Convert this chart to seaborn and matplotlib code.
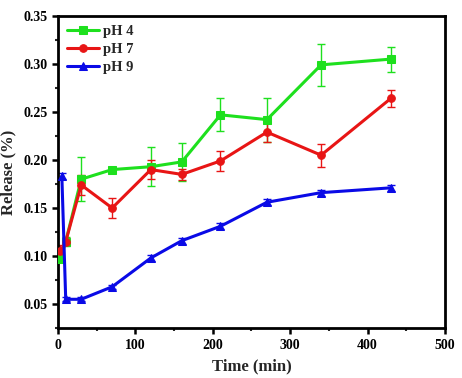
import pandas as pd
import matplotlib
matplotlib.use("Agg")
import matplotlib.pyplot as plt
import seaborn as sns
from matplotlib.ticker import MultipleLocator

sns.set_theme(style="ticks")
plt.rcParams["font.family"] = ["Liberation Serif", "DejaVu Serif"]
plt.rcParams["font.weight"] = "bold"

# data
time_ph4 = [3, 10, 30, 70, 120, 160, 210, 270, 340, 430]
release_ph4 = [0.097, 0.115, 0.180, 0.190, 0.193, 0.198, 0.247, 0.242, 0.299, 0.305]
err_ph4 = [0.003, 0.005, 0.023, 0.003, 0.020, 0.020, 0.017, 0.023, 0.022, 0.013]

time_ph7 = [3, 10, 30, 70, 120, 160, 210, 270, 340, 430]
release_ph7 = [0.105, 0.115, 0.174, 0.150, 0.190, 0.185, 0.199, 0.229, 0.205, 0.264]
err_ph7 = [0.006, 0.004, 0.010, 0.010, 0.010, 0.006, 0.010, 0.010, 0.012, 0.009]

time_ph9 = [5, 10, 30, 70, 120, 160, 210, 270, 340, 430]
release_ph9 = [0.183, 0.055, 0.055, 0.068, 0.098, 0.116, 0.131, 0.156, 0.166, 0.171]
err_ph9 = [0.003, 0.002, 0.002, 0.002, 0.003, 0.003, 0.003, 0.003, 0.003, 0.003]

labels = ["pH 4", "pH 7", "pH 9"]
colors = ["#1ee01e", "#e81515", "#0a0ae6"]
markers = ["s", "o", "^"]

series = [
    (time_ph4, release_ph4, err_ph4),
    (time_ph7, release_ph7, err_ph7),
    (time_ph9, release_ph9, err_ph9),
]

fig = plt.figure(figsize=(4.62, 3.78), dpi=100)
ax = fig.add_axes([0.1255, 0.132, 0.8375, 0.826])

for (t, r, e), lab, col, mk in zip(series, labels, colors, markers):
    df = pd.DataFrame({"Time": t, "Release": r})
    ax.errorbar(t, r, yerr=e, fmt="none", ecolor=col, elinewidth=1.0,
                capsize=3, capthick=1.0, zorder=2)
    sns.lineplot(data=df, x="Time", y="Release", ax=ax, color=col,
                 marker=mk, markersize=5.5, markeredgecolor=col,
                 linewidth=2.2, label=lab, zorder=3)

ax.set_xlim(0, 500)
ax.set_ylim(0.025, 0.35)
ax.xaxis.set_major_locator(MultipleLocator(100))
ax.xaxis.set_minor_locator(MultipleLocator(50))
ax.yaxis.set_major_locator(MultipleLocator(0.05))
ax.yaxis.set_minor_locator(MultipleLocator(0.025))
ax.yaxis.set_major_formatter(matplotlib.ticker.FormatStrFormatter("%.2f"))

ax.tick_params(which="major", direction="out", length=4, width=1.8,
               labelsize=10, colors="black")
ax.tick_params(which="minor", direction="out", length=2.5, width=1.5)
for s in ax.spines.values():
    s.set_linewidth(2)
    s.set_color("black")
for lbl in ax.get_xticklabels() + ax.get_yticklabels():
    lbl.set_fontweight("bold")

ax.set_xlabel("Time (min)", fontsize=12, fontweight="bold", labelpad=5)
ax.set_ylabel("Release (%)", fontsize=12, fontweight="bold", labelpad=5)

leg = ax.legend(loc="upper left", frameon=False, fontsize=10.5,
                handlelength=2.2, handletextpad=0.3, labelspacing=0.35,
                borderaxespad=0.2)
for txt in leg.get_texts():
    txt.set_fontweight("bold")

fig.savefig("out.png", dpi=100)
